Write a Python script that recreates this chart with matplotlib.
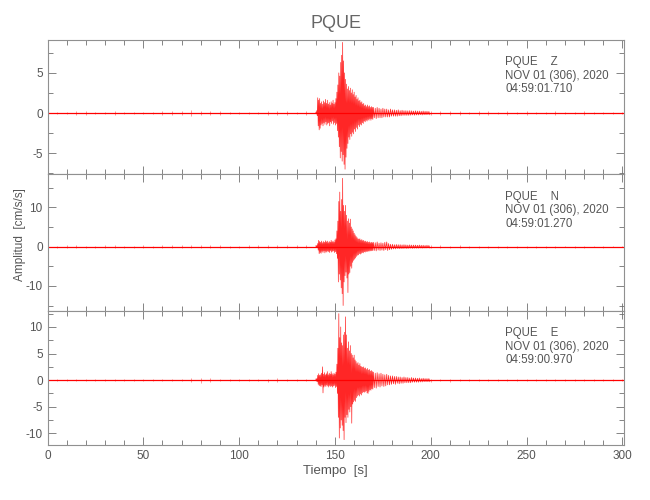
import matplotlib
matplotlib.use('Agg')
import matplotlib.pyplot as plt
import numpy as np
from matplotlib.ticker import MultipleLocator

plt.rcParams['font.family'] = ['Liberation Sans Narrow', 'Liberation Sans', 'DejaVu Sans']
plt.rcParams['axes.unicode_minus'] = False

# sample times of the traced envelope (s)
t_pre = np.arange(0, 140, 5)
t_main = np.arange(140, 170, 0.5)
t_coda = np.arange(170, 200, 1)
t_tail = np.arange(200, 301, 5)

# ---- PQUE Z ----
z_pre = [0.12, 0.12, 0.15, 0.25, 0.22, 0.12, 0.12, 0.22, 0.15, 0.12,
         0.12, 0.15, 0.2, 0.22, 0.25, 0.35, 0.28, 0.25, 0.22, 0.18,
         0.15, 0.15, 0.18, 0.2, 0.28, 0.2, 0.18, 0.2]
z_main_hi = [0.1, 0.3, 1.9, 1.6, 1.8, 1.2, 1.4, 1.1, 1.5, 1.3,
             1.7, 1.2, 1.6, 1.1, 1.3, 1.0, 1.4, 1.2, 1.6, 1.1,
             1.3, 1.8, 2.6, 3.5, 5.0, 4.6, 6.3, 7.2, 8.8, 6.5,
             5.0, 4.2, 3.6, 3.0, 3.3, 2.8, 3.1, 2.5, 2.9, 2.3,
             2.6, 2.0, 2.2, 1.7, 1.9, 1.5, 1.6, 1.3, 1.4, 1.1,
             1.2, 0.9, 1.0, 0.8, 1.0, 0.8, 0.9, 0.7, 0.8, 0.7]
z_main_lo = [-0.1, -0.3, -1.6, -2.1, -1.9, -1.5, -1.3, -1.6, -1.2, -1.4,
             -1.1, -1.5, -1.3, -1.2, -1.6, -1.1, -1.3, -1.0, -1.4, -1.2,
             -1.5, -1.3, -2.2, -3.0, -4.2, -5.6, -4.8, -6.0, -5.2, -6.4,
             -7.0, -5.5, -4.4, -3.8, -3.0, -3.3, -2.6, -2.9, -2.4, -2.6,
             -2.0, -2.3, -1.8, -2.0, -1.5, -1.7, -1.4, -1.5, -1.2, -1.3,
             -1.0, -1.1, -0.9, -1.0, -0.8, -0.9, -0.7, -0.9, -0.7, -0.8]
z_coda_hi = [0.7, 0.6, 0.7, 0.6, 0.5, 0.6, 0.5, 0.5, 0.4, 0.5,
             0.4, 0.4, 0.35, 0.4, 0.3, 0.35, 0.3, 0.3, 0.28, 0.3,
             0.28, 0.25, 0.28, 0.25, 0.25, 0.22, 0.25, 0.22, 0.22, 0.2]
z_coda_lo = [-0.6, -0.7, -0.6, -0.6, -0.6, -0.5, -0.5, -0.5, -0.5, -0.4,
             -0.4, -0.4, -0.4, -0.35, -0.35, -0.3, -0.3, -0.3, -0.3, -0.28,
             -0.25, -0.28, -0.25, -0.25, -0.22, -0.25, -0.22, -0.22, -0.2, -0.22]
z_tail = [0.22, 0.2, 0.22, 0.2, 0.18, 0.2, 0.2, 0.18, 0.2, 0.18,
          0.2, 0.18, 0.18, 0.2, 0.18, 0.18, 0.2, 0.18, 0.16, 0.18, 0.18]

# ---- PQUE N ----
n_pre = [0.25, 0.25, 0.3, 0.3, 0.25, 0.25, 0.3, 0.3, 0.25, 0.25,
         0.3, 0.25, 0.3, 0.35, 0.3, 0.4, 0.35, 0.3, 0.3, 0.25,
         0.25, 0.3, 0.3, 0.35, 0.4, 0.3, 0.3, 0.3]
n_main_hi = [0.2, 0.3, 0.8, 1.6, 1.3, 1.1, 1.4, 1.0, 1.3, 1.1,
             1.5, 1.2, 1.4, 1.0, 1.3, 1.1, 1.6, 1.2, 1.4, 1.1,
             1.7, 2.0, 4.0, 6.5, 11.5, 13.9, 9.0, 12.0, 17.4, 10.5,
             9.0, 10.5, 8.0, 6.5, 7.1, 6.0, 7.0, 5.0, 4.5, 4.0,
             3.4, 3.0, 2.6, 2.3, 2.0, 1.9, 2.0, 1.6, 1.8, 1.5,
             1.6, 1.3, 1.4, 1.2, 1.3, 1.1, 1.2, 1.0, 1.1, 1.0]
n_main_lo = [-0.2, -0.3, -0.9, -1.8, -1.5, -1.7, -1.2, -1.5, -1.1, -1.6,
             -1.2, -1.4, -1.1, -1.3, -1.5, -1.0, -1.4, -1.2, -1.1, -1.5,
             -1.3, -1.8, -3.0, -9.0, -7.0, -8.5, -10.5, -12.0, -15.0, -9.0,
             -7.4, -6.5, -8.0, -11.7, -7.0, -6.6, -5.0, -5.5, -4.0, -3.5,
             -3.2, -2.9, -2.5, -2.2, -2.1, -1.8, -1.9, -1.7, -1.5, -1.6,
             -1.3, -1.4, -1.2, -1.3, -1.1, -1.2, -1.0, -1.1, -1.0, -1.0]
n_coda_hi = [1.1, 1.0, 1.2, 0.9, 1.0, 0.9, 1.1, 1.2, 0.8, 0.6,
             0.6, 0.5, 0.55, 0.5, 0.5, 0.45, 0.5, 0.45, 0.4, 0.45,
             0.4, 0.4, 0.4, 0.35, 0.4, 0.35, 0.35, 0.3, 0.35, 0.3]
n_coda_lo = [-1.0, -1.1, -0.9, -1.0, -0.9, -1.0, -0.8, -1.0, -0.8, -0.7,
             -0.6, -0.6, -0.5, -0.55, -0.5, -0.5, -0.45, -0.5, -0.45, -0.4,
             -0.45, -0.4, -0.4, -0.4, -0.35, -0.4, -0.35, -0.35, -0.3, -0.35]
n_tail = [0.3, 0.3, 0.28, 0.3, 0.25, 0.28, 0.25, 0.28, 0.25, 0.25,
          0.28, 0.25, 0.25, 0.25, 0.22, 0.25, 0.25, 0.22, 0.25, 0.22, 0.22]

# ---- PQUE E ----
e_pre = [0.15, 0.15, 0.18, 0.2, 0.18, 0.15, 0.15, 0.2, 0.18, 0.15,
         0.15, 0.15, 0.18, 0.2, 0.2, 0.4, 0.45, 0.35, 0.2, 0.18,
         0.15, 0.18, 0.2, 0.3, 0.35, 0.25, 0.2, 0.18]
e_main_hi = [0.2, 0.3, 0.9, 1.2, 0.9, 1.0, 1.3, 2.5, 1.1, 1.4,
             1.0, 1.2, 1.6, 1.0, 1.3, 1.1, 1.6, 1.2, 1.0, 1.3,
             1.1, 1.5, 3.0, 6.0, 12.5, 8.0, 10.0, 7.0, 6.5, 8.5,
             9.0, 11.9, 8.5, 6.0, 7.2, 5.5, 6.5, 5.0, 4.7, 4.2,
             4.7, 3.8, 3.5, 3.1, 3.3, 2.8, 3.1, 2.6, 2.5, 2.4,
             2.5, 2.2, 2.3, 2.0, 2.2, 1.9, 2.0, 1.7, 1.8, 1.6]
e_main_lo = [-0.2, -0.3, -0.8, -1.0, -1.1, -1.2, -0.9, -2.4, -1.3, -1.0,
             -1.2, -0.9, -1.1, -1.3, -1.0, -1.2, -1.1, -1.3, -1.1, -1.0,
             -1.4, -1.2, -2.5, -7.0, -10.9, -9.0, -7.5, -8.5, -9.5, -11.2,
             -7.0, -8.0, -6.5, -7.0, -5.5, -6.0, -5.0, -8.1, -4.5, -4.1,
             -3.8, -4.0, -3.3, -3.0, -2.8, -3.0, -2.6, -2.8, -2.4, -2.2,
             -2.3, -2.2, -2.0, -2.4, -2.5, -2.1, -1.8, -1.9, -1.6, -1.7]
e_coda_hi = [1.5, 1.3, 1.4, 1.2, 1.3, 1.1, 1.0, 1.1, 0.9, 0.8,
             0.8, 0.7, 0.7, 0.6, 0.6, 0.5, 0.6, 0.5, 0.5, 0.4,
             0.5, 0.4, 0.4, 0.35, 0.4, 0.3, 0.35, 0.3, 0.3, 0.3]
e_coda_lo = [-1.4, -1.5, -1.2, -1.3, -1.1, -1.2, -1.1, -0.9, -0.9, -0.8,
             -0.7, -0.8, -0.6, -0.7, -0.6, -0.6, -0.5, -0.5, -0.5, -0.5,
             -0.4, -0.4, -0.4, -0.4, -0.35, -0.35, -0.3, -0.3, -0.3, -0.3]
e_tail = [0.28, 0.25, 0.28, 0.25, 0.22, 0.25, 0.22, 0.25, 0.22, 0.2,
          0.22, 0.2, 0.22, 0.2, 0.2, 0.22, 0.2, 0.2, 0.18, 0.2, 0.2]

components = ['Z', 'N', 'E']
start_times = ['04:59:01.710', '04:59:01.270', '04:59:00.970']
ylims = [(-7.6, 9.1), (-16.4, 18.5), (-12.2, 13.0)]
major_steps = [5, 10, 5]

traces = [
    (z_pre, z_main_hi, z_main_lo, z_coda_hi, z_coda_lo, z_tail),
    (n_pre, n_main_hi, n_main_lo, n_coda_hi, n_coda_lo, n_tail),
    (e_pre, e_main_hi, e_main_lo, e_coda_hi, e_coda_lo, e_tail),
]


def zigzag(mhi, mlo, chi, clo):
    # strong motion: alternate between upper and lower peaks
    t = np.concatenate([t_main, t_coda])
    hi = np.concatenate([mhi, chi])
    lo = np.concatenate([mlo, clo])
    step = np.diff(np.append(t, t[-1] + 1))
    xs = np.column_stack([t, t + step / 2]).ravel()
    ys = np.column_stack([hi, lo]).ravel()
    return xs, ys


grey = '#707070'
txt = '#555555'
fig = plt.figure(figsize=(6.5, 5), dpi=100)
left, width = 47.5 / 650, 576.5 / 650
edges = [40, 174, 311, 445]

for i in range(3):
    pre, mhi, mlo, chi, clo, tail = traces[i]
    bottom = 1 - edges[i + 1] / 500
    height = (edges[i + 1] - edges[i]) / 500
    ax = fig.add_axes([left, bottom, width, height])

    ax.axhline(0, color='red', lw=0.9)
    ax.vlines(t_pre, -np.array(pre), pre, color='red', lw=0.4, alpha=0.7)
    ax.vlines(t_tail, -np.array(tail), tail, color='red', lw=0.4, alpha=0.7)
    xs, ys = zigzag(mhi, mlo, chi, clo)
    ax.plot(xs, ys, color='red', lw=0.5, alpha=0.85)

    ax.set_xlim(0, 300.8)
    ax.set_ylim(*ylims[i])
    ax.xaxis.set_major_locator(MultipleLocator(50))
    ax.xaxis.set_minor_locator(MultipleLocator(10))
    ax.yaxis.set_major_locator(MultipleLocator(major_steps[i]))
    ax.yaxis.set_minor_locator(MultipleLocator(major_steps[i] / 2))
    ax.tick_params(which='both', direction='in', top=True, right=True,
                   colors=grey, labelcolor=txt, labelsize=8.5, width=0.6)
    ax.tick_params(which='major', length=6)
    ax.tick_params(which='minor', length=3.5)
    for s in ax.spines.values():
        s.set_color('#909090')
        s.set_linewidth(0.8)
    if i < 2:
        ax.tick_params(labelbottom=False)
    else:
        ax.set_xlabel('Tiempo  [s]', color=txt, fontsize=9.5, labelpad=2)
    ax.text(0.794, 0.835, 'PQUE    ' + components[i], transform=ax.transAxes,
            color=txt, fontsize=8.3, va='center')
    ax.text(0.794, 0.735, 'NOV 01 (306), 2020', transform=ax.transAxes,
            color=txt, fontsize=8.3, va='center')
    ax.text(0.794, 0.635, start_times[i], transform=ax.transAxes,
            color=txt, fontsize=8.3, va='center')
    if i == 0:
        ax.set_title('PQUE', color='#666666', fontsize=13, pad=9)

fig.text(20 / 650, 1 - 235 / 500, 'Amplitud  [cm/s/s]', rotation=90,
         ha='center', va='center', color=txt, fontsize=8.5)

fig.savefig('out.png', dpi=100)
